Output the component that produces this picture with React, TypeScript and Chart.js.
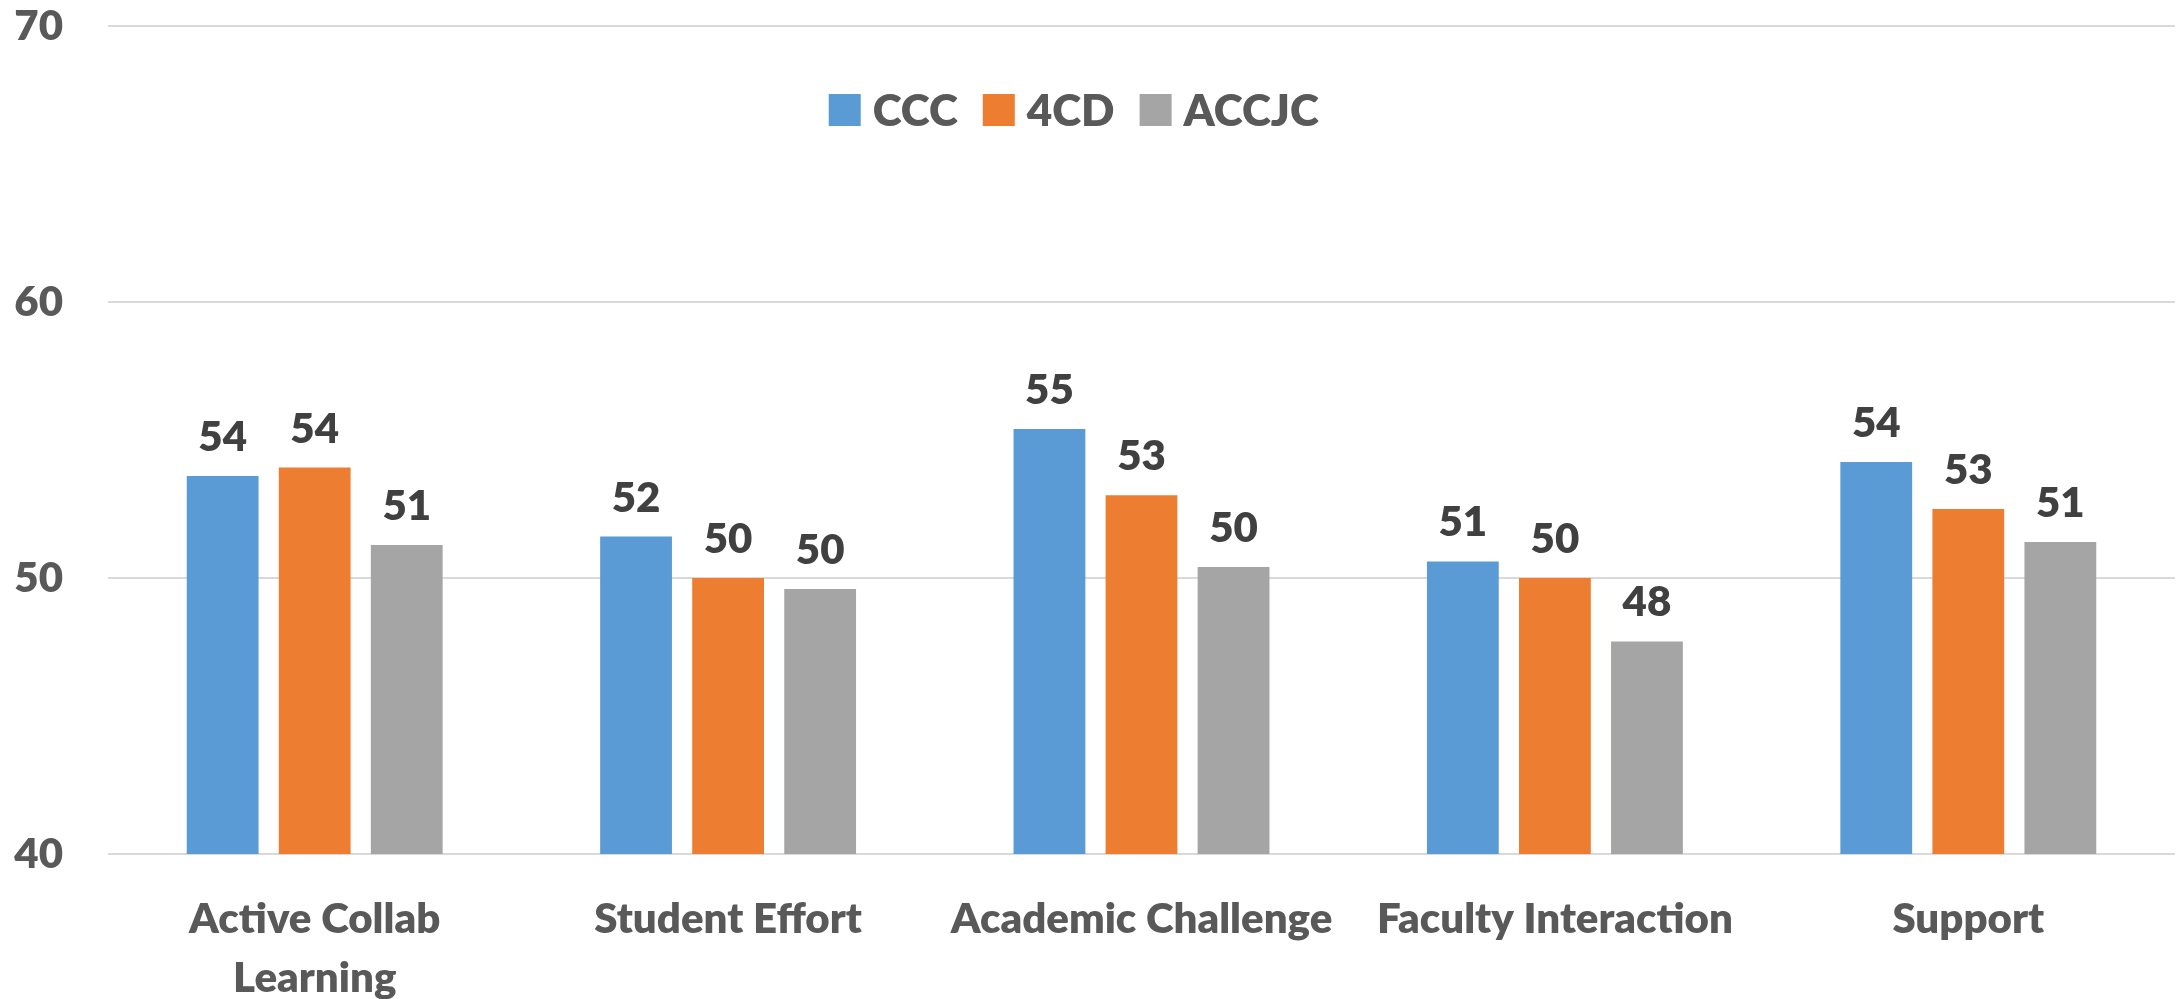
import React, { useEffect, useRef } from 'react';
import { Chart, registerables } from 'chart.js';

Chart.register(...registerables);

const categories: (string | string[])[] = [
  ['Active Collab', 'Learning'],
  'Student Effort',
  'Academic Challenge',
  'Faculty Interaction',
  'Support',
];
const seriesNames = ['CCC', '4CD', 'ACCJC'];
const cccValues = [53.7, 51.5, 55.4, 50.6, 54.2];
const cd4Values = [54.0, 50.0, 53.0, 50.0, 52.5];
const accjcValues = [51.2, 49.6, 50.4, 47.7, 51.3];
const yTicks = [40, 50, 60, 70];
const seriesColors = ['#5B9BD5', '#ED7D31', '#A5A5A5'];

const FONT = 'Lato, "Open Sans", sans-serif';
const WEIGHT = 800;

const valueLabels = {
  id: 'valueLabels',
  afterDatasetsDraw(chart: any) {
    const ctx = chart.ctx;
    ctx.save();
    ctx.font = `${WEIGHT} 42px ${FONT}`;
    ctx.fillStyle = '#404040';
    ctx.textAlign = 'center';
    ctx.textBaseline = 'alphabetic';
    chart.data.datasets.forEach((ds: any, i: number) => {
      const meta = chart.getDatasetMeta(i);
      meta.data.forEach((bar: any, j: number) => {
        const v = ds.data[j] as number;
        ctx.fillText(String(Math.round(v)), bar.x, bar.y - 25);
      });
    });
    ctx.restore();
  },
};

const insideLegend = {
  id: 'insideLegend',
  afterDraw(chart: any) {
    const ctx = chart.ctx;
    const box = 32;
    const gapText = 12;
    const gapItem = 25;
    ctx.save();
    ctx.font = `${WEIGHT} 44px ${FONT}`;
    const items = chart.data.datasets.map((d: any) => ({
      label: d.label as string,
      color: d.backgroundColor as string,
      w: ctx.measureText(d.label).width as number,
    }));
    const total =
      items.reduce((a: number, it: any) => a + box + gapText + it.w, 0) +
      gapItem * (items.length - 1);
    let x = chart.width * 0.493 - total / 2;
    const cy = chart.chartArea.top + 84;
    ctx.textBaseline = 'middle';
    ctx.textAlign = 'left';
    items.forEach((it: any) => {
      ctx.fillStyle = it.color;
      ctx.fillRect(x, cy - box / 2, box, box);
      x += box + gapText;
      ctx.fillStyle = '#595959';
      ctx.fillText(it.label, x, cy + 2);
      x += it.w + gapItem;
    });
    ctx.restore();
  },
};

export default function App() {
  const canvasRef = useRef<HTMLCanvasElement | null>(null);

  useEffect(() => {
    document.body.style.margin = '0';
    document.body.style.overflow = 'hidden';
    const canvas = canvasRef.current;
    if (!canvas) return;
    const seriesValues = [cccValues, cd4Values, accjcValues];
    const chart = new Chart(canvas, {
      type: 'bar',
      data: {
        labels: categories,
        datasets: seriesNames.map((name, i) => ({
          label: name,
          data: seriesValues[i],
          backgroundColor: seriesColors[i],
          borderWidth: 0,
          categoryPercentage: 0.668,
          barPercentage: 0.78,
        })),
      },
      options: {
        responsive: false,
        animation: false,
        devicePixelRatio: 1,
        layout: { padding: { top: 26, right: 3, left: 0, bottom: 0 } },
        plugins: {
          legend: { display: false },
          tooltip: { enabled: false },
          title: { display: false },
        },
        scales: {
          x: {
            grid: { display: false, drawTicks: false },
            border: { display: false },
            ticks: {
              color: '#595959',
              font: { family: FONT, size: 42, weight: WEIGHT, lineHeight: 1.4 },
              padding: 36,
              maxRotation: 0,
              autoSkip: false,
            },
            afterFit: (scale: any) => {
              scale.height = 145;
            },
          },
          y: {
            min: 40,
            max: 70,
            grid: { color: '#D9D9D9', lineWidth: 2, drawTicks: false },
            border: { display: false },
            ticks: {
              color: '#595959',
              font: { family: FONT, size: 42, weight: WEIGHT },
              padding: 45,
              stepSize: 10,
            },
            afterBuildTicks: (scale: any) => {
              scale.ticks = yTicks.map((v) => ({ value: v }));
            },
            afterFit: (scale: any) => {
              scale.width = 108;
              scale.paddingTop = 0;
              scale.paddingBottom = 0;
            },
          },
        },
      },
      plugins: [valueLabels, insideLegend],
    });
    return () => chart.destroy();
  }, []);

  return (
    <div style={{ width: 2178, height: 999 }}>
      <canvas ref={canvasRef} width={2178} height={999} style={{ display: 'block' }} />
    </div>
  );
}
